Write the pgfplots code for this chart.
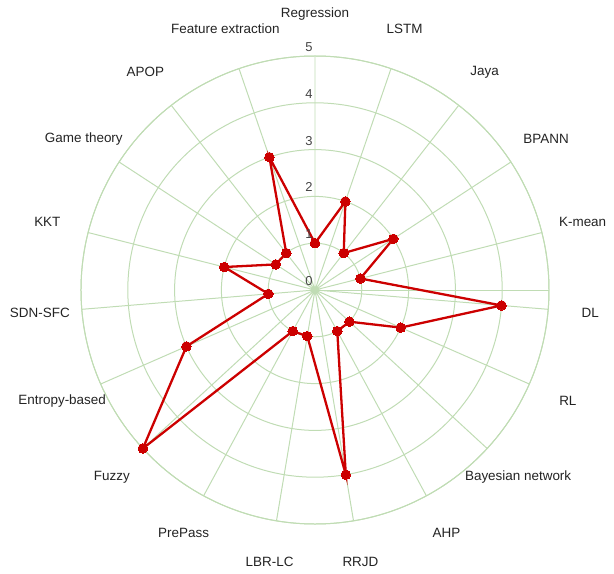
\documentclass[border=0pt]{standalone}
\usepackage{pgfplots}
\pgfplotsset{compat=1.18}
\usepgfplotslibrary{polar}
\usepackage{fontspec}
\setmainfont{Liberation Sans}
\definecolor{gridgreen}{RGB}{192,220,180}
\definecolor{linered}{RGB}{204,0,0}
\definecolor{txt}{RGB}{35,35,35}
\begin{document}
\begin{tikzpicture}[lab/.style={font=\fontsize{13.5}{16}\selectfont, text=txt, inner sep=0pt},
  rlab/.style={font=\fontsize{13}{15}\selectfont, text=txt!85, inner sep=0pt, xshift=-6bp, yshift=9bp}]
\begin{polaraxis}[
  width=468bp, scale only axis,
  xmin=0, xmax=360, ymin=0, ymax=5,
  xtick={90,71.0526,52.1053,33.1579,14.2105,355.2632,336.3158,317.3684,298.4211,279.4737,260.5263,241.5789,222.6316,203.6842,184.7368,165.7895,146.8421,127.8947,108.9474},
  ytick={1,2,3,4,5},
  xticklabels={}, yticklabels={},
  grid=major,
  major grid style={gridgreen, line width=1pt},
  axis line style={gridgreen, line width=1pt},
  major tick length=0pt,
  clip=false,
]
\addplot[linered, line width=2.3pt, mark=*, mark size=4.8pt, mark options={fill=linered, draw=linered, line width=0pt}]
  table[x expr=90-\thisrow{i}*360/19, y=v] {
i v
0 1
1 2
2 1
3 2
4 1
5 4
6 2
7 1
8 1
9 4
10 1
11 1
12 5
13 3
14 1
15 2
16 1
17 1
18 3
19 1
};
\coordinate (c) at (axis cs:0,0);
\node[lab] at (axis cs:90,5.9) {Regression};
\node[lab] at (axis cs:71.0526,5.9) {LSTM};
\node[lab] at (axis cs:52.1053,5.9) {Jaya};
\node[lab] at (axis cs:33.1579,5.9) {BPANN};
\node[lab] at (axis cs:14.2105,5.9) {K-mean};
\node[lab] at (axis cs:355.2632,5.9) {DL};
\node[lab] at (axis cs:336.3158,5.9) {RL};
\node[lab] at (axis cs:317.3684,5.9) {Bayesian network};
\node[lab] at (axis cs:298.4211,5.9) {AHP};
\node[lab] at (axis cs:279.4737,5.9) {RRJD};
\node[lab] at (axis cs:260.5263,5.9) {LBR-LC};
\node[lab] at (axis cs:241.5789,5.9) {PrePass};
\node[lab] at (axis cs:222.6316,5.9) {Fuzzy};
\node[lab] at (axis cs:203.6842,5.9) {Entropy-based};
\node[lab] at (axis cs:184.7368,5.9) {SDN-SFC};
\node[lab] at (axis cs:165.7895,5.9) {KKT};
\node[lab] at (axis cs:146.8421,5.9) {Game theory};
\node[lab] at (axis cs:127.8947,5.9) {APOP};
\node[lab] at (axis cs:108.9474,5.9) {Feature extraction};
\node[rlab] at (axis cs:90,0) {0};
\node[rlab] at (axis cs:90,1) {1};
\node[rlab] at (axis cs:90,2) {2};
\node[rlab] at (axis cs:90,3) {3};
\node[rlab] at (axis cs:90,4) {4};
\node[rlab] at (axis cs:90,5) {5};
\end{polaraxis}
\pgfresetboundingbox
\path (c) ++(-315bp,290bp) rectangle ++(614bp,-574bp);
\end{tikzpicture}
\end{document}
